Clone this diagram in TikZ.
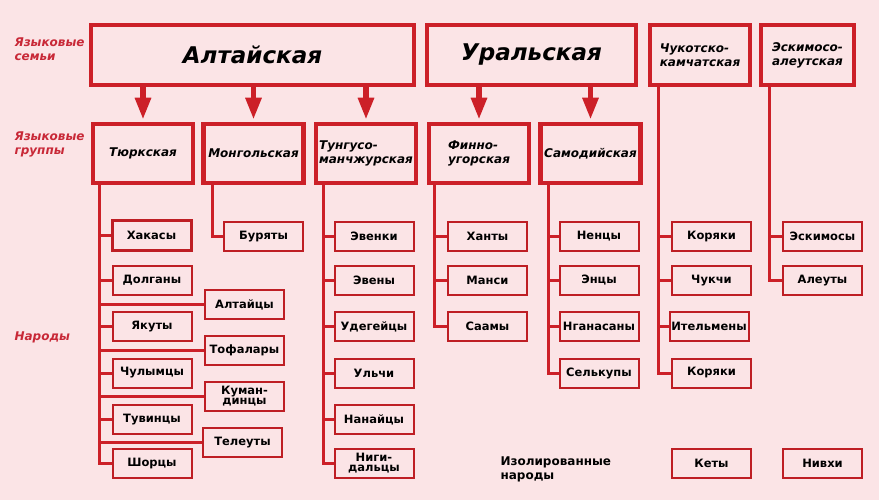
\documentclass[tikz,border=0pt]{standalone}
\usepackage{fontspec}
\setmainfont{DejaVu Sans}
\usetikzlibrary{arrows.meta}

\definecolor{bgpink}{RGB}{251,228,230}
\definecolor{boxred}{RGB}{204,32,40}
\definecolor{thinred}{RGB}{190,30,36}
\definecolor{labelred}{RGB}{200,40,55}

\tikzset{
  family/.style={draw=boxred, line width=4.5pt, minimum height=60pt, inner sep=0pt,
    font=\fontsize{23}{25}\selectfont\bfseries\itshape},
  smallfamily/.style={family, align=left, font=\fontsize{12}{14}\selectfont\bfseries\itshape},
  group/.style={draw=boxred, line width=4.5pt, minimum width=100pt, minimum height=59pt,
    inner sep=0pt, align=left, font=\fontsize{12}{14}\selectfont\bfseries\itshape},
  people/.style={draw=thinred, line width=2pt, minimum width=79pt, minimum height=29pt,
    inner sep=0pt, align=center, font=\fontsize{11.5}{13}\selectfont\bfseries},
  tight/.style={font=\fontsize{11.5}{10}\selectfont\bfseries},
  trunk/.style={draw=boxred, line width=3pt},
  famarrow/.style={draw=boxred, line width=5.5pt, shorten >=2pt,
    -{Triangle[width=15pt,length=22pt]}},
  rowlabel/.style={text=labelred, anchor=west, align=left,
    font=\fontsize{12}{14}\selectfont\bfseries\itshape}
}

\begin{document}
\begin{tikzpicture}[x=1pt,y=-1pt]
    \fill[bgpink] (0,0) rectangle (879,500);
    \useasboundingbox (0,0) rectangle (879,500);

    \node[rowlabel] (lblfam) at (11,49) {Языковые\\семьи};
    \node[rowlabel] (lblgrp) at (11,144) {Языковые\\группы};
    \node[rowlabel] (lblnar) at (11,337) {Народы};

    % families
    \node[family, minimum width=323pt] (altai) at (252.5,55) {Алтайская};
    \node[family, minimum width=209pt] (ural) at (531.5,55) {Уральская};
    \node[smallfamily, minimum width=100pt] (chukot) at (700,55) {Чукотско-\\камчатская};
    \node[smallfamily, minimum width=93pt] (eskal) at (807.5,55) {Эскимосо-\\алеутская};

    % groups
    \node[group] (turk) at (143,153.5) {Тюркская};
    \node[group] (mongol) at (253.5,153.5) {Монгольская};
    \node[group] (tungus) at (366,153.5) {Тунгусо-\\манчжурская};
    \node[group] (finno) at (479,153.5) {Финно-\\угорская};
    \node[group] (samod) at (590.5,153.5) {Самодийская};

    \draw[famarrow] (altai.south -| turk.north) -- (turk.north);
    \draw[famarrow] (altai.south -| mongol.north) -- (mongol.north);
    \draw[famarrow] (altai.south -| tungus.north) -- (tungus.north);
    \draw[famarrow] (ural.south -| finno.north) -- (finno.north);
    \draw[famarrow] (ural.south -| samod.north) -- (samod.north);

    % peoples
    \node[people, line width=3pt, minimum height=30pt] (hakasy) at (151.5,235.5) {Хакасы};
    \node[people] (dolgany) at (152,280.5) {Долганы};
    \node[people] (yakuty) at (152,326.5) {Якуты};
    \node[people] (chulym) at (152,373) {Чулымцы};
    \node[people] (tuvin) at (152,419.5) {Тувинцы};
    \node[people] (shorcy) at (152,463.5) {Шорцы};
    \node[people] (altaicy) at (244.5,304.5) {Алтайцы};
    \node[people] (tofalary) at (244.5,350.5) {Тофалары};
    \node[people, tight] (kuman) at (244.5,396.5) {Куман-\\динцы};
    \node[people] (teleuty) at (242.5,442.5) {Телеуты};

    \node[people] (buryaty) at (263.5,236.5) {Буряты};

    \node[people] (evenki) at (374,236.5) {Эвенки};
    \node[people] (eveny) at (374,280.5) {Эвены};
    \node[people] (udege) at (374,326.5) {Удегейцы};
    \node[people] (ulchi) at (374,373) {Ульчи};
    \node[people] (nanai) at (374,419.5) {Нанайцы};
    \node[people, tight] (negidal) at (374,463.5) {Ниги-\\дальцы};

    \node[people] (hanty) at (487.5,236.5) {Ханты};
    \node[people] (mansi) at (487.5,280.5) {Манси};
    \node[people] (saamy) at (487.5,326.5) {Саамы};

    \node[people] (nency) at (599,236.5) {Ненцы};
    \node[people] (ency) at (599,280.5) {Энцы};
    \node[people] (nganasany) at (599,326.5) {Нганасаны};
    \node[people] (selkupy) at (599,373) {Селькупы};

    \node[people] (koryaki) at (711.5,236.5) {Коряки};
    \node[people] (chukchi) at (711.5,280.5) {Чукчи};
    \node[people] (itelmeny) at (709,326.5) {Ительмены};
    \node[people] (koryakib) at (711.5,373) {Коряки};

    \node[people] (eskimosy) at (822.5,236.5) {Эскимосы};
    \node[people] (aleuty) at (822.5,280.5) {Алеуты};

    % isolated
    \node[anchor=west, align=left, font=\fontsize{12}{14}\selectfont\bfseries] (isol) at (497,469) {Изолированные\\народы};
    \node[people] (kety) at (711.5,463.5) {Кеты};
    \node[people] (nivhi) at (822.5,463.5) {Нивхи};

    % trunks
    \foreach \p in {hakasy,dolgany,altaicy,yakuty,tofalary,chulym,kuman,tuvin,teleuty,shorcy}
        \draw[trunk] ([xshift=9pt]turk.south west) |- (\p);
    \draw[trunk] ([xshift=11pt]mongol.south west) |- (buryaty);
    \foreach \p in {evenki,eveny,udege,ulchi,nanai,negidal}
        \draw[trunk] ([xshift=10pt]tungus.south west) |- (\p);
    \foreach \p in {hanty,mansi,saamy}
        \draw[trunk] ([xshift=8pt]finno.south west) |- (\p);
    \foreach \p in {nency,ency,nganasany,selkupy}
        \draw[trunk] ([xshift=10pt]samod.south west) |- (\p);
    \foreach \p in {koryaki,chukchi,itelmeny,koryakib}
        \draw[trunk] ([xshift=11pt]chukot.south west) |- (\p);
    \foreach \p in {eskimosy,aleuty}
        \draw[trunk] ([xshift=11pt]eskal.south west) |- (\p);

\end{tikzpicture}
\end{document}
